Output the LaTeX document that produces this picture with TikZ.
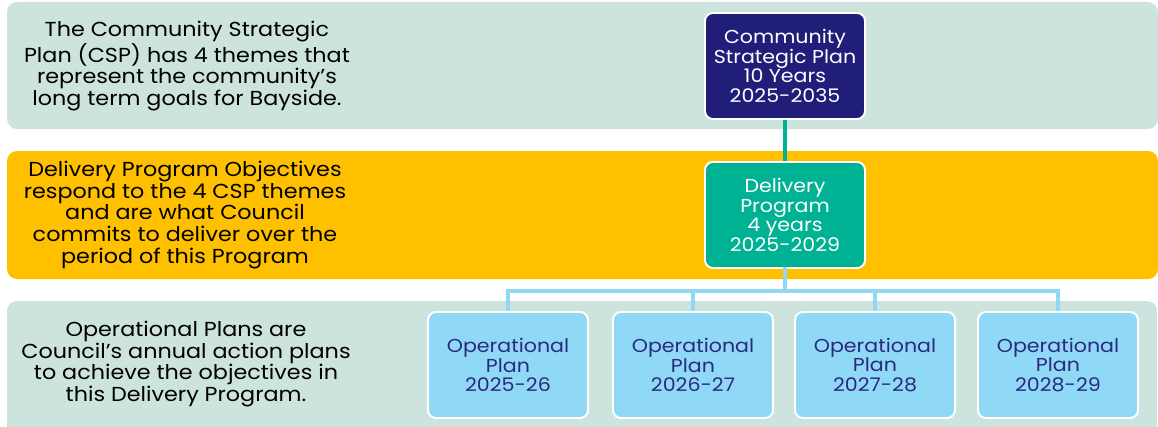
\documentclass[tikz,border=0pt]{standalone}
\usepackage{fontspec}
\setmainfont[FakeStretch=1.1]{Poppins}
\usepackage{xcolor}
\usepackage{tikz}
\usetikzlibrary{positioning}

\definecolor{sage}{HTML}{CDE3DD}
\definecolor{amber}{HTML}{FFC000}
\definecolor{navy}{HTML}{211E7A}
\definecolor{teal}{HTML}{00B294}
\definecolor{sky}{HTML}{8FD8F6}
\definecolor{optext}{HTML}{2B2A80}

\begin{document}
\begin{tikzpicture}[
  x=0.025cm, y=-0.025cm,
  band/.style={rounded corners=0.25cm, inner sep=0pt},
  lefttxt/.style={align=center, font=\fontsize{14.4}{15.3}\selectfont, text=black},
  plan/.style={draw=white, line width=1.4pt, rounded corners=0.2cm, minimum width=4cm, minimum height=2.65cm, align=center, inner sep=1pt, font=\fontsize{13.3}{13.9}\selectfont},
  link/.style={line width=2.8pt},
]
\useasboundingbox (0,0) rectangle (1158,427);

% background bands
\fill[sage, band]  (7,2)   rectangle (1158,129);
\fill[amber, band] (7,151) rectangle (1158,279);
\fill[sage, band]  (7,301) rectangle (1157,440);

\node[lefttxt] (csptxt) at (187,66) {The Community Strategic\\Plan (CSP) has 4 themes that\\represent the community’s\\long term goals for Bayside.};
\node[lefttxt] (dptxt) at (185,215) {Delivery Program Objectives\\respond to the 4 CSP themes\\and are what Council\\commits to deliver over the\\period of this Program};
\node[lefttxt] (optxt) at (186,364) {Operational Plans are\\Council’s annual action plans\\to achieve the objectives in\\this Delivery Program.};

\node[plan, fill=navy, text=white] (csp) at (785,66) {Community\\Strategic Plan\\10 Years\\2025-2035};
\node[plan, fill=teal, text=white] (dp) at (785,215) {Delivery\\Program\\4 years\\2025-2029};

\node[plan, fill=sky, text=optext] (op1) at (508,365) {Operational\\Plan\\2025-26};
\node[plan, fill=sky, text=optext] (op2) at (693,365) {Operational\\Plan\\2026-27};
\node[plan, fill=sky, text=optext] (op3) at (875,365) {Operational\\Plan\\2027-28};
\node[plan, fill=sky, text=optext] (op4) at (1058,365) {Operational\\Plan\\2028-29};

\coordinate (bus) at (785,291);

\draw[link, teal] (csp) -- (dp);
\draw[link, sky, line cap=rect] (dp) -- (bus);
\foreach \n in {op1,op2,op3,op4}
  \draw[link, sky, line join=miter] (bus) -| (\n);
\end{tikzpicture}
\end{document}
